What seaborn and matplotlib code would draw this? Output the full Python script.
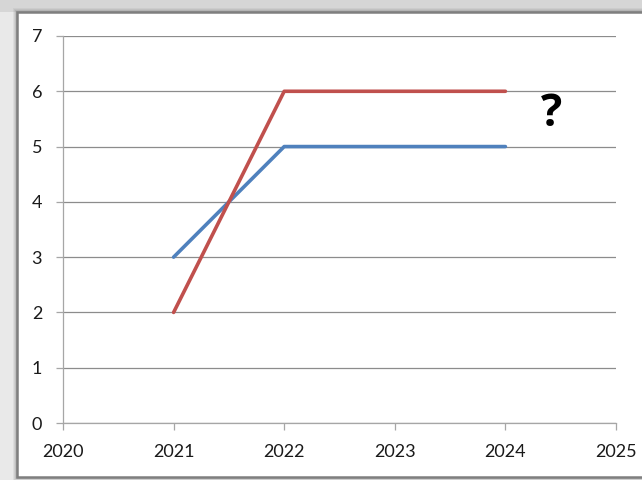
import matplotlib
matplotlib.use("Agg")
import matplotlib.pyplot as plt
import matplotlib.patches as mpatches
import seaborn as sns
import pandas as pd

years = [2021, 2022, 2023, 2024]
series_a = [3, 5, 5, 5]   # blue
series_b = [2, 6, 6, 6]   # red
x_ticks = [2020, 2021, 2022, 2023, 2024, 2025]
y_ticks = [0, 1, 2, 3, 4, 5, 6, 7]

df = pd.DataFrame({
    "year": years * 2,
    "value": series_a + series_b,
    "series": ["A"] * len(years) + ["B"] * len(years),
})

sns.set_theme(style="white")
plt.rcParams['font.family'] = ['Lato', 'DejaVu Sans']

fig = plt.figure(figsize=(6.42, 4.80), dpi=100)
fig.patch.set_facecolor("#e9e9e9")

W, H = 642, 480
# top band above frame
fig.patches.append(mpatches.Rectangle((0, (480 - 12) / H), 1, 12 / H, transform=fig.transFigure,
                                      facecolor="#d6d6d6", edgecolor="none", zorder=0))
# shadow + frame
for i, a in enumerate([0.12, 0.16, 0.22, 0.30]):
    off = 4 - i
    fig.patches.append(mpatches.Rectangle(((17 - off) / W, (3 - off) / H), 1.2, (465 + 2 * off) / H,
                                          transform=fig.transFigure, facecolor="#8a8a8a",
                                          alpha=a, edgecolor="none", zorder=0))
fig.patches.append(mpatches.Rectangle((17 / W, 3 / H), 1.2, 465 / H,
                                      transform=fig.transFigure, facecolor="white",
                                      edgecolor="#7f7f7f", linewidth=1.8, zorder=1))

ax = fig.add_axes([63 / W, (480 - 423) / H, (616 - 63) / W, (423 - 36) / H])
ax.set_facecolor("none")
ax.set_zorder(2)

sns.lineplot(data=df, x="year", y="value", hue="series",
             palette={"A": "#4F81BD", "B": "#C0504D"}, linewidth=2.6,
             legend=False, ax=ax, zorder=3)

ax.set_xlim(2020, 2025)
ax.set_ylim(0, 7)
ax.set_xticks(x_ticks)
ax.set_xticklabels([str(t) for t in x_ticks])
ax.set_yticks(y_ticks)
ax.set_xlabel("")
ax.set_ylabel("")
ax.yaxis.grid(True, color="#8c8c8c", linewidth=0.9)
ax.xaxis.grid(False)
for s in ["top", "right"]:
    ax.spines[s].set_visible(False)
for s in ["left", "bottom"]:
    ax.spines[s].set_color("#a6a6a6")
    ax.spines[s].set_linewidth(0.9)
ax.tick_params(axis="both", which="major", direction="out", length=5, width=0.9,
               color="#a6a6a6", labelsize=13, labelcolor="#1a1a1a")
ax.tick_params(axis="y", pad=10, left=True)
ax.tick_params(axis="x", pad=10, bottom=True)

ax.text(2024.42, 5.58, "?", fontsize=32, fontweight="bold", family=["Open Sans", "DejaVu Sans"],
        ha="center", va="center", color="black")

fig.savefig("out.png", dpi=100, facecolor=fig.get_facecolor())
